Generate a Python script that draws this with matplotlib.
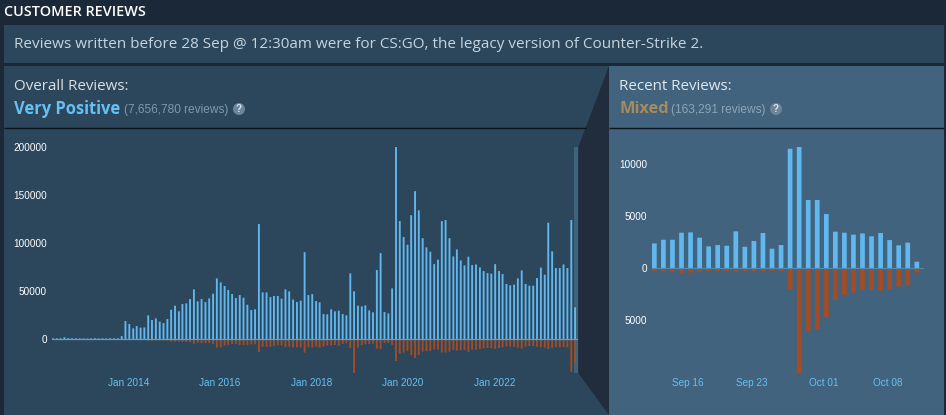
"""Steam customer reviews histogram: overall reviews by month, recent reviews by day."""
import matplotlib
matplotlib.use("Agg")
import matplotlib.dates as mdates
import matplotlib.pyplot as plt
import pandas as pd
from matplotlib.patches import Circle, Polygon, Rectangle
from matplotlib.ticker import FuncFormatter

W, H = 946, 415

# 月度數據 (May 2012 - Oct 2023)
overall_up = [
    700, 700, 800, 1800, 900, 700, 600, 600, 500, 500,
    600, 800, 600, 600, 500, 700, 600, 700, 3000,
    18700, 15600, 11100, 13500, 11800, 12100, 24600, 19800, 21500, 18000,
    16600, 20800, 30500, 34700, 28800, 36400, 37100, 41600, 51700, 39200,
    41600, 38500, 42300, 47200, 63100, 59000, 55200, 51000, 46800, 42700,
    45800, 43000, 35700, 30200, 30900, 119700, 48600, 48600, 43700, 44800,
    44800, 42000, 51700,
    49600, 41000, 38500, 40000, 90500, 45800, 46800, 39600, 38200, 26000,
    25700, 30900, 28800, 29500, 26000, 24600, 68400, 49600, 34700, 34000,
    35000, 29800, 27800, 71800, 89500, 28100, 26700, 52700, 200000, 122800,
    106200, 98200, 129000, 154000, 134000, 105000, 95400, 90900, 78000, 82600,
    122800, 123900, 105000, 86000, 93300, 81900, 76700, 85700, 77000, 77700,
    74600, 70800, 68700, 68000, 78000, 70800, 67700, 57300, 55900, 56600,
    63200, 71500, 57300, 55500, 55500, 63500, 74300, 67000, 121100, 91300,
    73900, 73900, 77700, 73900, 123900, 33000,
]
overall_down = [
    100, 100, 100, 200, 100, 100, 100, 100, 100, 100,
    100, 100, 100, 100, 100, 100, 100, 100, 300,
    1400, 1000, 800, 800, 700, 700, 1700, 1700, 1500, 1500,
    1500, 1800, 2800, 2800, 2800, 3100, 3100, 3500, 4900, 4200,
    4200, 4200, 4200, 5200, 9000, 8700, 6900, 6200, 5200, 5200,
    6200, 6200, 6200, 5500, 5500, 13500, 8000, 8300, 8000, 7300,
    6600, 6600, 8300,
    8000, 8700, 8700, 9000, 14200, 8700, 9000, 8000, 9000, 8000,
    6900, 6900, 6200, 6900, 5200, 4500, 9400, 35400, 9000, 6200,
    5500, 5200, 4900, 10000, 10400, 4200, 4200, 6200, 22900, 15300,
    14200, 12500, 16700, 19800, 16700, 13200, 12500, 12500, 10800, 11100,
    13900, 14200, 13200, 11500, 12100, 11500, 11500, 13500, 11100, 11100,
    10400, 9700, 9400, 9400, 10400, 9400, 8700, 7600, 8000, 8300,
    9000, 10000, 8000, 7300, 7300, 8000, 8700, 9000, 10400, 9400,
    8700, 8700, 8300, 8700, 34300, 25000,
]
overall_ticks = ["2014-01-01", "2016-01-01", "2018-01-01", "2020-01-01", "2022-01-01"]

# 每日數據 (Sep 12 - Oct 11)
recent_up = [
    2400, 2750, 2750, 3430, 3460, 2950, 2115, 2240, 2180, 3560,
    2080, 2630, 3400, 1890, 2240, 11500, 11670, 6570, 6570, 5220,
    3525, 3430, 3240, 3365, 3080, 3400, 2720, 2210, 2470, 640,
]
recent_down = [
    320, 320, 350, 450, 420, 350, 320, 290, 290, 350,
    320, 320, 320, 260, 260, 1990, 10060, 6060, 5830, 4740,
    3010, 2560, 2340, 2050, 2050, 2150, 1990, 1760, 1630, 420,
]
recent_ticks = ["2023-09-16", "2023-09-23", "2023-10-01", "2023-10-08"]

BG = "#1b2838"
PANEL = "#2c475c"
PANEL_RECENT = "#41637d"
SHADOW = "#212c3c"
BLUE = "#61b8ef"
RED = "#a34c25"
UI_FONT = ["Open Sans", "DejaVu Sans"]
CHART_FONT = ["Liberation Sans", "DejaVu Sans"]


def axes_at(fig, x0, x1, y0, y1):
    """用像素座標建立 axes (y 由上往下)。"""
    ax = fig.add_axes([x0 / W, 1 - y1 / H, (x1 - x0) / W, (y1 - y0) / H])
    ax.patch.set_alpha(0)
    for spine in ax.spines.values():
        spine.set_visible(False)
    return ax


def draw_histogram(ax, dates, up, down, width, yticks, date_fmt, tick_dates):
    # snap=False: 細條不要被對齊到整數像素，否則寬度不一
    ax.bar(dates, up, width=width, align="edge", color=BLUE, linewidth=0, snap=False)
    ax.bar(dates, [-v for v in down], width=width, align="edge", color=RED, linewidth=0, snap=False)
    ax.set_yticks(yticks)
    ax.yaxis.set_major_formatter(FuncFormatter(lambda v, _: f"{abs(v):.0f}"))
    ax.set_xticks(pd.to_datetime(tick_dates))
    ax.xaxis.set_major_formatter(mdates.DateFormatter(date_fmt))
    ax.tick_params(axis="y", length=0, pad=3.6, labelsize=7.2, labelcolor="#ffffff")
    ax.tick_params(axis="x", length=0, pad=3.5, labelsize=7.2, labelcolor="#66c0f4")
    for label in ax.get_xticklabels() + ax.get_yticklabels():
        label.set_fontfamily(CHART_FONT)


def draw_help_icon(bg, x, y):
    bg.add_patch(Circle((x, y), 6, color="#6c8599", linewidth=0))
    bg.text(x, y, "?", color="#dfe6ec", fontsize=7, fontweight="bold",
            ha="center", va="center", family=CHART_FONT)


fig = plt.figure(figsize=(W / 100, H / 100), dpi=100, facecolor=BG)

# 背景面板
bg = fig.add_axes([0, 0, 1, 1])
bg.set_xlim(0, W)
bg.set_ylim(H, 0)
bg.axis("off")
bg.add_patch(Rectangle((4, 25), 940, 38, color=PANEL, linewidth=0))
bg.add_patch(Rectangle((4, 66), 605, 349, color=PANEL, linewidth=0))
bg.add_patch(Rectangle((609, 66), 335, 349, color=PANEL_RECENT, linewidth=0))
bg.add_patch(Polygon([(609, 66), (578.3, 147), (578.3, 373), (609, 415)],
                     closed=True, color=SHADOW, linewidth=0))
bg.add_patch(Rectangle((574, 147), 4.3, 226, color="#41627b", linewidth=0))
bg.plot([4, 586], [128.5, 128.5], color="#0e141b", lw=1, solid_capstyle="butt")
bg.plot([609, 944], [128.5, 128.5], color="#0e141b", lw=1, solid_capstyle="butt")

# 文字
bg.text(4, 12, "CUSTOMER REVIEWS", color="#ffffff", fontsize=10.4, va="center",
        family=UI_FONT, fontweight="semibold")
bg.text(14, 44.5, "Reviews written before 28 Sep @ 12:30am were for CS:GO, "
        "the legacy version of Counter-Strike 2.", color="#c6d4df", fontsize=10.95,
        va="center", family=UI_FONT)
bg.text(14, 87, "Overall Reviews:", color="#d8dfe5", fontsize=10.9, va="center", family=UI_FONT)
bg.text(14, 109, "Very Positive", color="#66c0f4", fontsize=11.9, fontweight="bold",
        va="center", family=UI_FONT)
bg.text(124, 110, "(7,656,780 reviews)", color="#7f99ab", fontsize=8.6, va="center",
        family=CHART_FONT)
draw_help_icon(bg, 239, 109)
bg.text(619, 87, "Recent Reviews:", color="#e2e7eb", fontsize=10.9, va="center", family=UI_FONT)
bg.text(619, 109, "Mixed", color="#a98a5c", fontsize=11.8, fontweight="bold",
        va="center", family=UI_FONT)
bg.text(671, 110, "(163,291 reviews)", color="#8ba6ba", fontsize=8.6, va="center",
        family=CHART_FONT)
draw_help_icon(bg, 776, 109)

# 左圖：全部評論
months = pd.date_range("2012-05-01", periods=len(overall_up), freq="MS")
ax_all = axes_at(fig, 52, 578, 147, 373)
draw_histogram(ax_all, months, overall_up, overall_down, 15, [0, 50000, 100000, 150000, 200000],
               "%b %Y", overall_ticks)
ax_all.axhline(0, color="#5c9fc9", lw=0.9, zorder=3)
ax_all.set_xlim(pd.Timestamp("2012-05-01"), pd.Timestamp("2023-11-01"))
ax_all.set_ylim(-35400, 200000)

# 右圖：近期評論
days = pd.date_range("2023-09-12", periods=len(recent_up), freq="D")
ax_recent = axes_at(fig, 652, 923.5, 147, 373)
draw_histogram(ax_recent, days, recent_up, recent_down, 0.52, [-5000, 0, 5000, 10000],
               "%b %d", recent_ticks)
ax_recent.axhline(0, color="#5489ad", lw=0.9, zorder=3)
ax_recent.set_xlim(pd.Timestamp("2023-09-12"), pd.Timestamp("2023-10-12"))
ax_recent.set_ylim(-10060, 11670)

fig.savefig("out.png", dpi=100, facecolor=BG)
plt.close(fig)
